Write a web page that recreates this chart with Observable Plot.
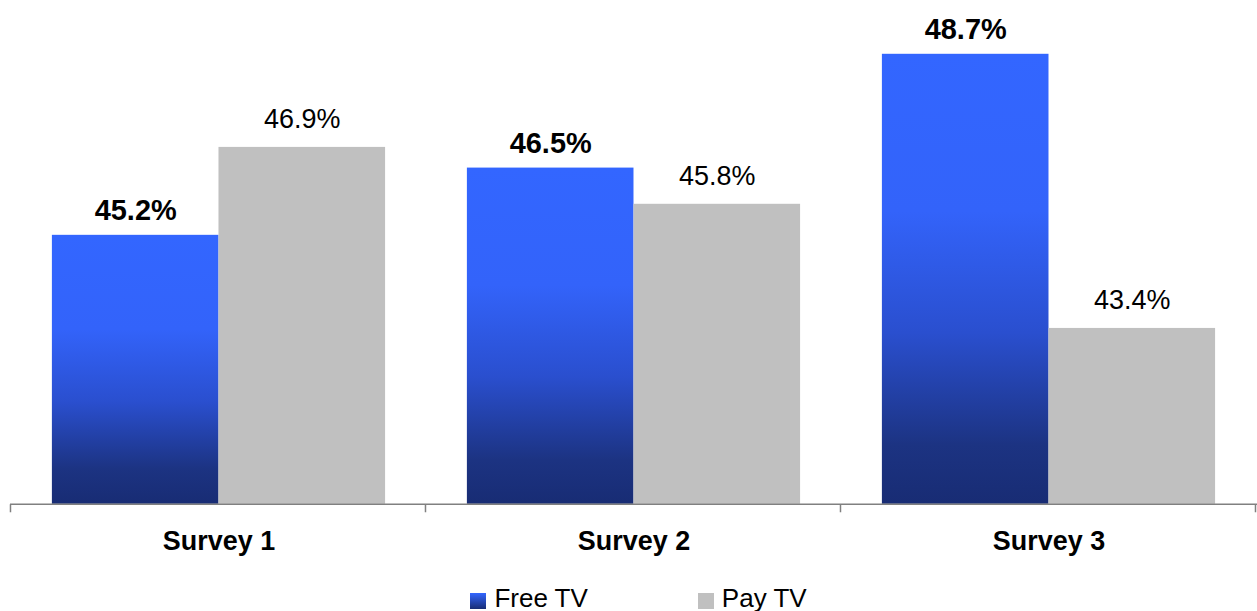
<!DOCTYPE html>
<html>
<head>
<meta charset="utf-8">
<script src="https://cdn.jsdelivr.net/npm/d3@7"></script>
<script src="https://cdn.jsdelivr.net/npm/@observablehq/plot@0.6"></script>
<style>
  html, body { margin: 0; padding: 0; background: #fff; overflow: hidden; width: 1257px; height: 611px; }
  body { font-family: "Liberation Sans", Arial, sans-serif; position: relative; }
  #chart svg { display: block; }
  .legend { position: absolute; top: 583px; left: 0; width: 1257px; display: flex; justify-content: center; gap: 110px; font-size: 26px; color: #000; padding-left: 20px; box-sizing: border-box; }
  .legend .item { display: flex; align-items: center; }
  .legend .sw { width: 16px; height: 16px; margin-right: 8px; margin-top: 4px; }
</style>
</head>
<body>
<div id="chart"></div>
<div class="legend" id="legend"></div>
<script>
const surveys = ["Survey 1", "Survey 2", "Survey 3"];
const series = ["Free TV", "Pay TV"];
const freeTV = [45.2, 46.5, 48.7];
const payTV = [46.9, 45.8, 43.4];
const seriesColors = ["url(#freeGrad)", "#C0C0C0"];
const yDomain = [40, 49.74];

const data = surveys.flatMap((s, i) => [
  {survey: s, series: series[0], value: freeTV[i]},
  {survey: s, series: series[1], value: payTV[i]}
]);

const fmt = d => d.value.toFixed(1) + "%";

const chart = Plot.plot({
  width: 1260,
  height: 580,
  marginLeft: 10,
  marginRight: 0,
  marginTop: 0,
  marginBottom: 75,
  style: {fontFamily: "'Liberation Sans', Arial, sans-serif", background: "white", color: "#000"},
  fx: {domain: surveys, paddingInner: 0.198, paddingOuter: 0.099, label: null},
  x: {domain: series, padding: 0, axis: null},
  y: {domain: yDomain, axis: null},
  color: {domain: series, range: seriesColors},
  marks: [
    Plot.barY(data, {fx: "survey", x: "series", y1: yDomain[0], y2: "value", fill: "series", inset: 0}),
    Plot.text(data.filter(d => d.series === series[0]), {fx: "survey", x: "series", y: "value", text: fmt, lineAnchor: "bottom", dy: -15, fontSize: 29, fontWeight: "bold", fill: "#000"}),
    Plot.text(data.filter(d => d.series === series[1]), {fx: "survey", x: "series", y: "value", text: fmt, lineAnchor: "bottom", dy: -19, fontSize: 27, fill: "#000"}),
    Plot.axisFx({anchor: "bottom", tickSize: 0, tickPadding: 27, fontSize: 27, fontWeight: "bold", label: null, fill: "#000"})
  ]
});

document.getElementById("chart").appendChild(chart);

// gradient definition
const svg = d3.select(chart);
const defs = svg.insert("defs", ":first-child");
const grad = defs.append("linearGradient").attr("id", "freeGrad").attr("x1", 0).attr("y1", 0).attr("x2", 0).attr("y2", 1);
[[0, "#3366ff"], [0.35, "#3363fa"], [0.62, "#2a4fcf"], [0.87, "#1c3382"], [1, "#182c74"]].forEach(([o, c]) =>
  grad.append("stop").attr("offset", o).attr("stop-color", c));

// baseline and category boundary ticks from the library's scales
const fxS = chart.scale("fx");
const yS = chart.scale("y");
const y0 = Math.round(yS.apply(yDomain[0])) + 0.5;
const g = svg.append("g").attr("stroke", "#808080").attr("stroke-width", 1.5);
g.append("line").attr("x1", fxS.range[0]).attr("x2", fxS.range[1]).attr("y1", y0).attr("y2", y0);
d3.range(surveys.length + 1).forEach(i => {
  const x = fxS.range[0] + i * fxS.step + 0.5;
  g.append("line").attr("x1", x).attr("x2", x).attr("y1", y0).attr("y2", y0 + 8);
});

// legend
const legend = d3.select("#legend");
series.forEach((s, i) => {
  const it = legend.append("div").attr("class", "item");
  it.append("div").attr("class", "sw").style("background", i === 0 ? "linear-gradient(#3366ff, #182c74)" : seriesColors[1]);
  it.append("span").text(s);
});
</script>
</body>
</html>
